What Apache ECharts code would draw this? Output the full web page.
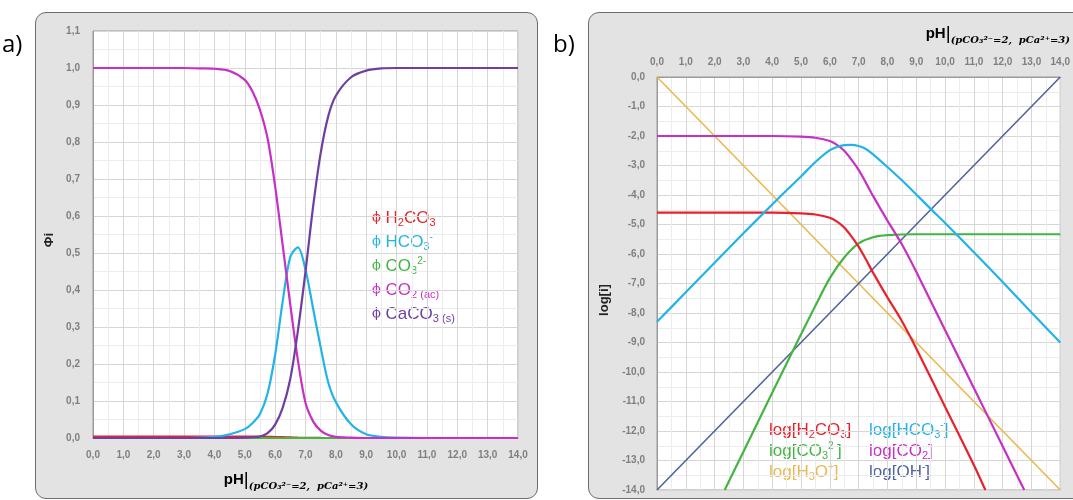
<!DOCTYPE html>
<html>
<head>
<meta charset="utf-8">
<script src="https://cdn.jsdelivr.net/npm/echarts@6/dist/echarts.min.js"></script>
<style>
  html, body { margin: 0; padding: 0; background: #fff; }
  .box { position: absolute; background: #e3e3e3; border: 1px solid #6d6d6d; border-radius: 11px; }
  #main { position: absolute; left: 0; top: 0; width: 1073px; height: 500px; }
</style>
</head>
<body>
<div class="box" style="left:35px;top:12px;width:501px;height:485px;"></div>
<div class="box" style="left:588px;top:12px;width:500px;height:485px;"></div>
<div id="main"></div>
<script>
// a) fracciones
var phA = [0, 1, 2, 3, 3.5, 4, 4.5, 5, 5.25, 5.5, 5.75, 6, 6.25, 6.5, 6.75, 7, 7.25, 7.5, 7.75, 8, 8.5, 9, 9.5, 10, 11, 12, 13, 14]
var fH2CO3 = [0.004, 0.004, 0.004, 0.004, 0.004, 0.004, 0.004, 0.004, 0.004, 0.0035, 0.003, 0.0027, 0.0022, 0.0016, 0.001, 0.0005, 0.0003, 0.0001, 0, 0, 0, 0, 0, 0, 0, 0, 0, 0]
var fHCO3 = [0, 0, 0, 0, 0.001, 0.003, 0.01, 0.024, 0.04, 0.065, 0.12, 0.225, 0.37, 0.49, 0.515, 0.455, 0.35, 0.245, 0.15, 0.097, 0.037, 0.01, 0.003, 0.001, 0, 0, 0, 0]
var fCO3 = [0, 0, 0, 0, 0, 0, 0, 0, 0, 0, 0, 0, 0, 0, 0, 0, 0, 0, 0, 0, 0, 0, 0, 0, 0, 0, 0, 0]
var fCO2 = [1, 1, 1, 1, 0.999, 0.998, 0.992, 0.968, 0.937, 0.887, 0.81, 0.68, 0.52, 0.36, 0.21, 0.095, 0.045, 0.02, 0.008, 0.003, 0.001, 0, 0, 0, 0, 0, 0, 0]
var fCaCO3 = [0, 0, 0, 0, 0, 0, 0, 0.001, 0.002, 0.004, 0.013, 0.036, 0.082, 0.16, 0.29, 0.45, 0.625, 0.77, 0.87, 0.925, 0.975, 0.993, 0.999, 1, 1, 1, 1, 1]

// b) diagrama logaritmico
var phB = [0, 1, 2, 3, 4, 4.5, 5, 5.5, 6, 6.25, 6.5, 6.75, 7, 7.25, 7.5, 8, 8.5, 9, 9.5, 10, 11, 12, 13, 14]
var logHCO3 = [-8.3, -7.3, -6.3, -5.3, -4.32, -3.84, -3.37, -2.88, -2.48, -2.37, -2.31, -2.3, -2.34, -2.44, -2.62, -3.05, -3.5, -3.98, -4.47, -4.95, -5.94, -6.95, -7.98, -9.0]
var phCO2 = [0, 1, 2, 3, 4, 5, 5.5, 6, 6.25, 6.5, 6.75, 7, 7.25, 7.5, 8, 8.5, 9, 10, 11, 12, 12.75]
var logCO2 = [-2, -2, -2, -2, -2, -2.02, -2.06, -2.17, -2.3, -2.5, -2.8, -3.15, -3.58, -4.03, -4.87, -5.67, -6.6, -8.58, -10.54, -12.52, -14]
var phH2CO3 = [0, 1, 2, 3, 4, 5, 5.5, 6, 6.25, 6.5, 6.75, 7, 7.25, 7.5, 8, 8.5, 9, 10, 11, 11.4]
var logH2CO3 = [-4.6, -4.6, -4.6, -4.6, -4.6, -4.62, -4.66, -4.77, -4.9, -5.1, -5.4, -5.75, -6.18, -6.63, -7.47, -8.27, -9.2, -11.18, -13.15, -14]
var phCO3 = [2.35, 3, 4, 5, 5.5, 6, 6.5, 7, 7.5, 8, 9, 10, 11, 12, 13, 14]
var logCO3 = [-14, -12.7, -10.7, -8.72, -7.75, -6.82, -6.12, -5.64, -5.43, -5.36, -5.33, -5.33, -5.33, -5.33, -5.33, -5.33]
var phEnds = [0, 14]
var logH3O = [0, -14]
var logOH = [-14, 0]

var colH2CO3 = '#e8222c'
var colHCO3 = '#22b4e6'
var colCO3 = '#45b443'
var colCO2 = '#c730c3'
var colCaCO3 = '#6e3fa0'
var colH3O = '#e8b94e'
var colOH = '#52639c'

function zip(xs, ys) {
  return xs.map(function (x, i) { return [x, ys[i]] })
}
function coma(v) {
  return v.toFixed(1).replace('.', ',')
}

var tickFont = { color: '#7f7f7f', fontSize: 10, fontWeight: 'bold', fontFamily: 'Liberation Sans' }
var split = { show: true, lineStyle: { color: '#d6d6d6', width: 1 } }
var minorSplit = { show: true, lineStyle: { color: '#ececec', width: 1 } }

function lineA(name, data, color) {
  return {
    name: name, type: 'line', xAxisIndex: 0, yAxisIndex: 0,
    data: zip(phA, data), smooth: 0.3, showSymbol: false,
    lineStyle: { color: color, width: 2.2 }, itemStyle: { color: color }
  }
}
function lineB(name, xs, ys, color, w) {
  return {
    name: name, type: 'line', xAxisIndex: 1, yAxisIndex: 1,
    data: zip(xs, ys), smooth: 0.3, showSymbol: false,
    lineStyle: { color: color, width: w }, itemStyle: { color: color }
  }
}

var sub = { fontSize: 11, verticalAlign: 'bottom', lineHeight: 13, fontFamily: 'Liberation Sans' }
var sup = { fontSize: 10, verticalAlign: 'top', lineHeight: 10, fontFamily: 'Liberation Sans' }

function legTxt(x, y, text, color, size) {
  return {
    type: 'text', x: x, y: y,
    style: {
      text: text, fill: color, verticalAlign: 'middle',
      font: size + 'px "Liberation Sans"',
      rich: {
        m: { fontSize: size, fontFamily: 'Liberation Sans', color: color, lineHeight: 20 },
        phi: { fontSize: 13, fontFamily: 'DejaVu Serif', color: color, lineHeight: 20 },
        s: Object.assign({ color: color }, sub),
        p: Object.assign({ color: color }, sup)
      }
    }
  }
}

var titleRich = {
  b: { fontSize: 15, fontWeight: 'bold', fontFamily: 'Liberation Sans', color: '#222', lineHeight: 22 },
  bar: { fontSize: 19, fontFamily: 'Liberation Sans', color: '#222', lineHeight: 22 },
  i: { fontSize: 10, fontStyle: 'italic', fontWeight: 'bold', fontFamily: 'DejaVu Serif', color: '#222', verticalAlign: 'bottom', lineHeight: 14 }
}

var chart = echarts.init(document.getElementById('main'))
var option = {
  backgroundColor: 'transparent',
  animation: false,
  grid: [
    { left: 93, top: 31, width: 425, height: 407, show: true, backgroundColor: '#fff', borderColor: '#9a9a9a', borderWidth: 1 },
    { left: 657, top: 77, width: 413, height: 413, show: true, backgroundColor: '#fff', borderColor: '#9a9a9a', borderWidth: 1 }
  ],
  xAxis: [
    {
      type: 'value', gridIndex: 0, min: 0, max: 14, interval: 1,
      axisLine: { lineStyle: { color: '#9a9a9a' } }, axisTick: { show: false },
      axisLabel: Object.assign({ margin: 12, formatter: coma }, tickFont),
      splitLine: split, minorTick: { show: false, splitNumber: 2 }, minorSplitLine: minorSplit
    },
    {
      type: 'value', gridIndex: 1, position: 'top', min: 0, max: 14, interval: 1,
      axisLine: { lineStyle: { color: '#9a9a9a' } }, axisTick: { show: false },
      axisLabel: Object.assign({ margin: 10, formatter: coma }, tickFont),
      splitLine: split, minorTick: { show: false, splitNumber: 2 }, minorSplitLine: minorSplit
    }
  ],
  yAxis: [
    {
      type: 'value', gridIndex: 0, min: 0, max: 1.1, interval: 0.1,
      axisLine: { show: true, lineStyle: { color: '#9a9a9a' } }, axisTick: { show: false },
      axisLabel: Object.assign({ margin: 13, formatter: coma }, tickFont),
      splitLine: split, minorTick: { show: false, splitNumber: 2 }, minorSplitLine: minorSplit
    },
    {
      type: 'value', gridIndex: 1, min: -14, max: 0, interval: 1,
      axisLine: { show: true, lineStyle: { color: '#9a9a9a' } }, axisTick: { show: false },
      axisLabel: Object.assign({ margin: 12, formatter: coma }, tickFont),
      splitLine: split, minorTick: { show: false, splitNumber: 2 }, minorSplitLine: minorSplit
    }
  ],
  series: [
    lineA('H2CO3', fH2CO3, colH2CO3),
    lineA('HCO3-', fHCO3, colHCO3),
    lineA('CO3 2-', fCO3, colCO3),
    lineA('CO2 (ac)', fCO2, colCO2),
    lineA('CaCO3 (s)', fCaCO3, colCaCO3),
    lineB('log[H3O+]', phEnds, logH3O, colH3O, 1.6),
    lineB('log[OH-]', phEnds, logOH, colOH, 1.6),
    lineB('log[CO3 2-]', phCO3, logCO3, colCO3, 2.2),
    lineB('log[H2CO3]', phH2CO3, logH2CO3, colH2CO3, 2.2),
    lineB('log[CO2]', phCO2, logCO2, colCO2, 2.2),
    lineB('log[HCO3-]', phB, logHCO3, colHCO3, 2.2)
  ],
  graphic: [
    { type: 'text', x: 2, y: 45, style: { text: 'a)', font: '24px "Open Sans"', fill: '#000', verticalAlign: 'middle' } },
    { type: 'text', x: 553, y: 45, style: { text: 'b)', font: '24px "Open Sans"', fill: '#000', verticalAlign: 'middle' } },
    // titulos de ejes
    {
      type: 'text', x: 296, y: 480,
      style: { text: '{b|pH}{bar||}{i|(pCO₃²⁻=2,  pCa²⁺=3)}', align: 'center', verticalAlign: 'middle', rich: titleRich }
    },
    {
      type: 'text', x: 1070, y: 34,
      style: { text: '{b|pH}{bar||}{i|(pCO₃²⁻=2,  pCa²⁺=3)}', align: 'right', verticalAlign: 'middle', rich: titleRich }
    },
    {
      type: 'text', x: 49, y: 240, rotation: Math.PI / 2,
      style: { text: 'Φi', font: 'bold 13px "Liberation Sans"', fill: '#222', align: 'center', verticalAlign: 'middle' }
    },
    {
      type: 'text', x: 604, y: 300, rotation: Math.PI / 2,
      style: { text: 'log[i]', font: 'bold 13px "Liberation Sans"', fill: '#222', align: 'center', verticalAlign: 'middle' }
    },
    // leyenda a
    legTxt(372, 218, '{phi|ϕ} {m|H}{s|2}{m|CO}{s|3}', colH2CO3, 17),
    legTxt(372, 242, '{phi|ϕ} {m|HCO}{s|3}{p|-}', colHCO3, 17),
    legTxt(372, 266, '{phi|ϕ} {m|CO}{s|3}{p|2-}', colCO3, 17),
    legTxt(372, 290, '{phi|ϕ} {m|CO}{s|2 (ac)}', colCO2, 17),
    legTxt(372, 314, '{phi|ϕ} {m|CaCO}{s|3 (s)}', colCaCO3, 17),
    // leyenda b
    legTxt(769, 430, '{m|log[H}{s|2}{m|CO}{s|3}{m|]}', colH2CO3, 17),
    legTxt(869, 430, '{m|log[HCO}{s|3}{p|-}{m|]}', colHCO3, 17),
    legTxt(769, 451, '{m|log[CO}{s|3}{p|2-}{m|]}', colCO3, 17),
    legTxt(869, 451, '{m|log[CO}{s|2}{m|]}', colCO2, 17),
    legTxt(769, 472, '{m|log[H}{s|3}{m|O}{p|+}{m|]}', colH3O, 17),
    legTxt(869, 472, '{m|log[OH}{p|-}{m|]}', colOH, 17)
  ]
}
chart.setOption(option)
</script>
</body>
</html>
